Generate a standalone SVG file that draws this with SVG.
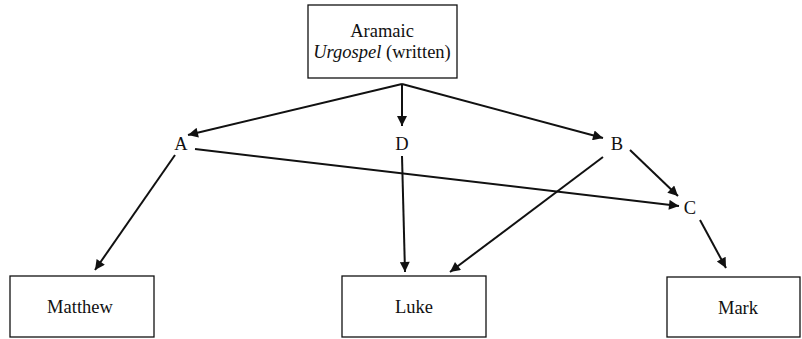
<svg xmlns="http://www.w3.org/2000/svg" width="802" height="339" viewBox="0 0 802 339">
<style>
.box{fill:#fff;stroke:#111;stroke-width:1.3}
.t{font-family:"Liberation Serif",serif;font-size:18.5px;fill:#111;text-anchor:middle}
.e{stroke:#111;stroke-width:2;fill:none;marker-end:url(#ah)}
</style>
<defs>
<marker id="ah" viewBox="0 0 10 10" refX="10" refY="5" markerWidth="13" markerHeight="10" markerUnits="userSpaceOnUse" orient="auto">
<path d="M0,0 L10,5 L0,10 z" fill="#111"/>
</marker>
</defs>
<rect width="802" height="339" fill="#fff"/>
<g id="connectors">
<path class="e" d="M402,84 L188,135"/>
<path class="e" d="M402,84 L402,126"/>
<path class="e" d="M402,84 L603,138"/>
<path class="e" d="M630,150 L678,196"/>
<path class="e" d="M195,149 L679,206"/>
<path class="e" d="M175,155 L95,270"/>
<path class="e" d="M402,156 L405,272"/>
<path class="e" d="M603,157 L450,272"/>
<path class="e" d="M700,220 L726,268"/>
</g>
<g id="urgospel">
<rect class="box" x="308" y="5" width="149" height="73"/>
<text class="t" x="382" y="37">Aramaic</text>
<text class="t" x="382" y="58"><tspan font-style="italic">Urgospel</tspan> (written)</text>
</g>
<g id="A"><text class="t" x="181" y="150">A</text></g>
<g id="D"><text class="t" x="402" y="150">D</text></g>
<g id="B"><text class="t" x="617" y="150">B</text></g>
<g id="C"><text class="t" x="690" y="214">C</text></g>
<g id="matthew">
<rect class="box" x="10" y="276" width="144" height="61"/>
<text class="t" x="80" y="313">Matthew</text>
</g>
<g id="luke">
<rect class="box" x="342" y="276" width="144" height="61"/>
<text class="t" x="414" y="313">Luke</text>
</g>
<g id="mark">
<rect class="box" x="667" y="277" width="133" height="60"/>
<text class="t" x="738" y="314">Mark</text>
</g>
</svg>
